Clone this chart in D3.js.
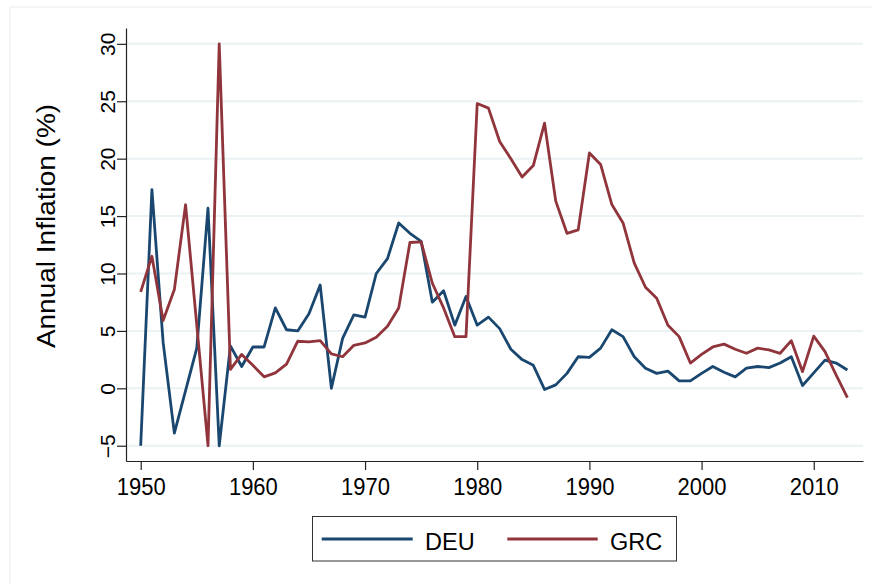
<!DOCTYPE html>
<html>
<head>
<meta charset="utf-8">
<script src="https://cdn.jsdelivr.net/npm/d3@7/dist/d3.min.js"></script>
<style>
  html, body { margin: 0; padding: 0; background: #fff; }
  svg { display: block; font-family: "Liberation Sans", Arial, Helvetica, sans-serif; }
</style>
</head>
<body>
<svg id="chart" width="872" height="584"></svg>
<script>
const years = d3.range(1950, 2014);
const deu = [-5.0, 17.3, 4.0, -3.9, -0.2, 3.5, 15.7, -5.0, 3.7, 1.9,
             3.6, 3.6, 7.0, 5.1, 5.0, 6.5, 9.0, 0.0, 4.35, 6.4,
             6.2, 10.0, 11.3, 14.4, 13.5, 12.8, 7.5, 8.5, 5.5, 8.0,
             5.5, 6.2, 5.2, 3.4, 2.5, 2.0, -0.1, 0.3, 1.3, 2.75,
             2.7, 3.5, 5.1, 4.5, 2.75, 1.75, 1.3, 1.5, 0.65, 0.65,
             1.3, 1.9, 1.4, 1.0, 1.75, 1.9, 1.8, 2.2, 2.75, 0.25,
             1.35, 2.45, 2.2, 1.6];
const grc = [8.4, 11.5, 5.9, 8.6, 16.0, 5.5, -5.0, 30.0, 1.65, 2.95,
             2.0, 1.0, 1.35, 2.1, 4.1, 4.05, 4.15, 3.0, 2.75, 3.75,
             3.95, 4.45, 5.4, 7.0, 12.7, 12.75, 9.15, 7.0, 4.5, 4.5,
             24.8, 24.4, 21.5, 20.0, 18.4, 19.4, 23.1, 16.3, 13.5, 13.8,
             20.5, 19.5, 16.0, 14.4, 10.9, 8.8, 7.85, 5.5, 4.5, 2.2,
             2.95, 3.6, 3.85, 3.4, 3.05, 3.5, 3.35, 3.05, 4.15, 1.45,
             4.55, 3.2, 1.15, -0.8];
const xTicks = [1950, 1960, 1970, 1980, 1990, 2000, 2010];
const yTicks = [-5, 0, 5, 10, 15, 20, 25, 30];
const seriesNames = ["DEU", "GRC"];
const seriesColors = ["#1a476f", "#90353b"];

const svg = d3.select("#chart");

// faint outer frame
svg.append("rect").attr("x", 10).attr("y", 7).attr("width", 900).attr("height", 620)
  .attr("fill", "none").attr("stroke", "#ececec").attr("stroke-width", 1);

const pLeft = 126, pRight = 863, pTop = 28, pBottom = 461;
const x = d3.scaleLinear().domain([1948.69, 2014.39]).range([pLeft, pRight]);
const y = d3.scaleLinear().domain([-6.33, 31.38]).range([pBottom, pTop]);

// gridlines
svg.append("g").selectAll("line").data(yTicks).join("line")
  .attr("x1", pLeft).attr("x2", pRight)
  .attr("y1", d => y(d)).attr("y2", d => y(d))
  .attr("stroke", "#eaf2f3").attr("stroke-width", 2);

// lines
const line = d3.line().x((d, i) => x(years[i])).y(d => y(d));
[deu, grc].forEach((s, k) => {
  svg.append("path").datum(s)
    .attr("d", line)
    .attr("fill", "none")
    .attr("stroke", seriesColors[k])
    .attr("stroke-width", 2.8)
    .attr("stroke-linejoin", "round")
    .attr("stroke-linecap", "butt");
});

// x axis
const gx = svg.append("g").attr("transform", `translate(0,${pBottom})`)
  .call(d3.axisBottom(x).tickValues(xTicks).tickFormat(d3.format("d")).tickSize(9).tickSizeOuter(0));
gx.select(".domain").attr("stroke", "#222").attr("stroke-width", 1.2);
gx.selectAll(".tick line").attr("stroke", "#222").attr("stroke-width", 1.2);
gx.selectAll(".tick text").attr("font-size", 22).attr("fill", "#000")
  .attr("font-family", "Liberation Sans, Arial, sans-serif")
  .attr("dy", 0).attr("y", 0)
  .attr("transform", "translate(0,34) scale(1,1.12)");

// y axis
const gy = svg.append("g").attr("transform", `translate(${pLeft},0)`)
  .call(d3.axisLeft(y).tickValues(yTicks).tickSize(9).tickSizeOuter(0));
gy.select(".domain").attr("stroke", "#222").attr("stroke-width", 1.2);
gy.selectAll(".tick line").attr("stroke", "#222").attr("stroke-width", 1.2);
gy.selectAll(".tick text").attr("font-size", 21).attr("fill", "#000")
  .attr("font-family", "Liberation Sans, Arial, sans-serif")
  .attr("x", 0).attr("y", -11).attr("dy", 0)
  .attr("text-anchor", "middle")
  .attr("transform", "rotate(-90)");

// y title
svg.append("text")
  .attr("transform", "translate(55,226) rotate(-90) scale(1.12,1)")
  .attr("text-anchor", "middle")
  .attr("font-size", 25)
  .attr("fill", "#000")
  .text("Annual Inflation (%)");

// legend
const lg = svg.append("g");
lg.append("rect").attr("x", 312.5).attr("y", 516.5).attr("width", 364).attr("height", 44.5)
  .attr("fill", "#fff").attr("stroke", "#333").attr("stroke-width", 1);
const legX = [[321.7, 412.7, 425], [507.3, 597.7, 610]];
seriesNames.forEach((n, k) => {
  lg.append("line").attr("x1", legX[k][0]).attr("x2", legX[k][1]).attr("y1", 539).attr("y2", 539)
    .attr("stroke", seriesColors[k]).attr("stroke-width", 3);
  lg.append("text").attr("x", legX[k][2]).attr("y", 549.5).attr("font-size", 23.5)
    .attr("fill", "#000").text(n);
});
</script>
</body>
</html>
